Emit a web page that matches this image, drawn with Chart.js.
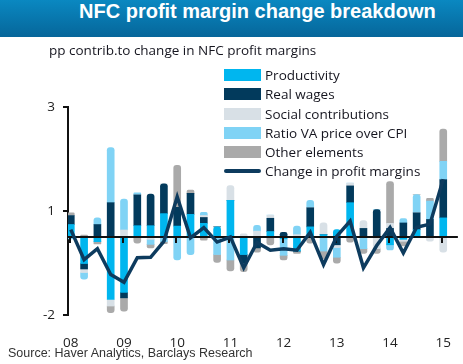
<!DOCTYPE html>
<html><head><meta charset="utf-8">
<script src="https://cdn.jsdelivr.net/npm/chart.js@4/dist/chart.umd.min.js"></script>
<style>
html,body{margin:0;padding:0;background:#fff}
body{width:463px;height:364px;overflow:hidden;position:relative;font-family:"Open Sans",sans-serif}
#title{position:absolute;left:0;top:0;width:463px;height:37px;background:linear-gradient(#0a88c1,#06669a);z-index:2}
#title span{position:absolute;left:79px;top:0;line-height:37px;font:bold 20px "Liberation Sans",Arial,sans-serif;color:#fff;white-space:nowrap}
#sub{position:absolute;left:49px;top:41px;font-size:13.5px;line-height:18px;color:#15151f;white-space:nowrap;z-index:2}
#wrap{position:absolute;left:0;top:0;width:463px;height:364px;z-index:1}
.lg{position:absolute;z-index:3}
.box{position:absolute;left:224px;width:37px;height:12px}
.lt{position:absolute;left:265px;font-size:13.5px;line-height:18px;color:#15151f;white-space:nowrap}
#src{position:absolute;left:8px;top:346px;font:12.5px "Liberation Sans",Arial,sans-serif;color:#333;white-space:nowrap;z-index:2}
</style></head>
<body>
<div id="title"><span>NFC profit margin change breakdown</span></div>
<div id="sub">pp contrib.to change in NFC profit margins</div>
<div id="wrap"><canvas id="c" width="463" height="364"></canvas></div>
<div id="legend"></div>
<div id="src">Source: Haver Analytics, Barclays Research</div>
<script>
// Quarters 2008Q1 .. 2015Q1
const quarters = ['08Q1','08Q2','08Q3','08Q4','09Q1','09Q2','09Q3','09Q4','10Q1','10Q2','10Q3','10Q4','11Q1','11Q2','11Q3','11Q4','12Q1','12Q2','12Q3','12Q4','13Q1','13Q2','13Q3','13Q4','14Q1','14Q2','14Q3','14Q4','15Q1'];
const yearLabels = ['08','09','10','11','12','13','14','15'];
const yearTickIdx = [0,4,8,12,16,20,24,28];

const productivity = [0.32,-0.68,-0.12,-1.60,-1.42,0.29,0.29,0.60,0.28,0.58,0.35,0.26,0.94,-0.45,0,0.14,-0.05,-0.36,0.26,0.06,0.19,0.88,0,0,-0.20,-0.06,0.19,0,0.49];
const realWages    = [0.23,-0.14,0.32,0.88,-0.14,0.79,0.81,0.76,0.48,0.54,0.15,0,0,-0.22,-0.28,0.34,0.12,0,0.49,0,-0.20,0.43,0.22,0.70,0.22,0.36,0.43,0.45,0.98];
const socialContr  = [0,-0.09,0,-0.17,0.18,0,-0.06,0,0,0,0.05,0,0.38,0.08,0.15,0.08,0,0.06,0,0.30,-0.07,0.07,0.20,-0.30,0.13,-0.05,0,-0.11,-0.39];
const ratioVA      = [-0.05,-0.17,0.17,1.41,0.79,0.05,-0.13,-0.12,-0.59,-0.45,0.08,-0.45,-0.59,0,0.15,0,-0.42,0.22,0.19,-0.36,-0.25,0,-0.30,0,-0.13,0.11,0.47,0.47,0.47];
const otherElems   = [0.07,0.05,-0.06,-0.17,-0.34,-0.16,-0.09,-0.05,1.08,0.08,-0.08,-0.20,-0.28,-0.22,-0.11,-0.20,-0.12,-0.06,-0.16,-0.20,-0.15,-0.13,-0.12,-0.12,1.07,-0.12,0,0.07,0.83];
const profitChange = [0.19,-0.58,-0.30,-0.96,-1.16,-0.53,-0.52,-0.11,1.03,-0.02,0.24,-0.13,0.00,-0.79,-0.14,-0.34,-0.30,-0.34,0.12,-0.71,0.02,0.41,-0.79,-0.22,0.24,-0.41,0.25,0.33,1.48];

// y-axis labels as printed in the reference, at the scale positions where they appear
const yTickValues = [3.333, 0.667, -2];
const yTickLabels = ['3', '1', '-2'];

const seriesNames = ['Productivity','Real wages','Social contributions','Ratio VA price over CPI','Other elements','Change in profit margins'];
const colors = ['#00b6ef','#023a5c','#d8e0e6','#80d3f5','#aaaaaa','#0d3b5e'];

// legend (HTML)
const lg = document.getElementById('legend');
seriesNames.forEach((n,i)=>{
  const top = 69.3 + 19.1*i;
  const b = document.createElement('div');
  b.className='box lg';
  if(i<5){ b.style.top=top+'px'; b.style.background=colors[i]; }
  else { b.style.top=(top+4)+'px'; b.style.height='4px'; b.style.borderRadius='2px'; b.style.background=colors[i]; }
  lg.appendChild(b);
  const t = document.createElement('div');
  t.className='lt lg'; t.style.top=(top-3)+'px'; t.textContent=n;
  lg.appendChild(t);
});

const pts = arr => arr.map((v,i)=>({x:i,y:v}));
const barDs = (i, arr) => ({type:'bar', label:seriesNames[i], data:pts(arr), backgroundColor:colors[i],
  stack:'bars', barThickness:7, borderRadius:3, order:2});

const zeroPlugin = {
  id:'zeroLine',
  beforeDatasetDraw(chart, args){
    if(args.meta.type!=='line') return;
    const {ctx, chartArea, scales:{x,y}} = chart;
    const y0 = y.getPixelForValue(0);
    ctx.save();
    ctx.strokeStyle='#111'; ctx.lineWidth=2;
    ctx.beginPath(); ctx.moveTo(chartArea.left, y0); ctx.lineTo(chartArea.right, y0); ctx.stroke();
    yearTickIdx.forEach(i=>{
      const px = Math.round(x.getPixelForValue(i))-1;
      ctx.beginPath(); ctx.moveTo(px, y0); ctx.lineTo(px, y0+6); ctx.stroke();
    });
    ctx.restore();
  }
};

const font = {family:'"Open Sans", sans-serif', size:13.5};
new Chart(document.getElementById('c'), {
  data:{datasets:[
    barDs(0, productivity), barDs(1, realWages), barDs(2, socialContr), barDs(3, ratioVA), barDs(4, otherElems),
    {type:'line', label:seriesNames[5], data:pts(profitChange), borderColor:colors[5], borderWidth:3.5,
     pointRadius:0, tension:0, stack:'line', order:0, fill:false}
  ]},
  options:{
    responsive:false, animation:false,
    layout:{padding:{top:107,right:1,left:0,bottom:0}},
    plugins:{legend:{display:false}, tooltip:{enabled:false}},
    scales:{
      x:{type:'linear', min:-0.21, max:29.1, offset:false,
        grid:{display:false, offset:false}, border:{display:false},
        afterBuildTicks: s => { s.ticks = yearTickIdx.map(v=>({value:v})); },
        ticks:{callback:v => yearLabels[yearTickIdx.indexOf(v)], padding:12, font, color:'#222', maxRotation:0, autoSkip:false},
        afterFit: s => { s.height = 49; }
      },
      y:{type:'linear', min:-2, max:3.333, stacked:true,
        afterBuildTicks: s => { s.ticks = yTickValues.map(v=>({value:v})); },
        ticks:{callback:v => yTickLabels[yTickValues.indexOf(v)], padding:8, font, color:'#222'},
        grid:{drawOnChartArea:false, drawTicks:true, tickLength:5, tickColor:'#111', lineWidth:2},
        border:{display:true, color:'#111', width:2},
        afterFit: s => { s.width = 68; }
      }
    }
  },
  plugins:[zeroPlugin]
});
</script>
</body></html>
